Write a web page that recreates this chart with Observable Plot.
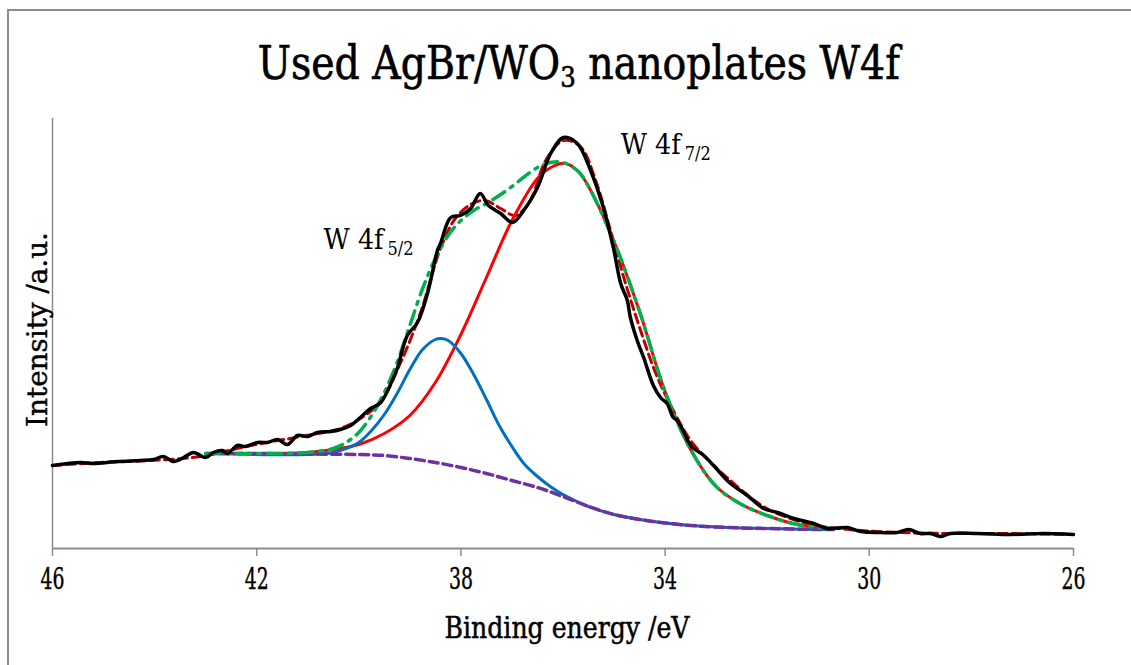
<!DOCTYPE html>
<html>
<head>
<meta charset="utf-8">
<script src="https://cdn.jsdelivr.net/npm/d3@7"></script>
<script src="https://cdn.jsdelivr.net/npm/@observablehq/plot@0.6"></script>
<style>
html,body{margin:0;padding:0;background:#fff;}
#wrap{position:relative;width:1131px;height:665px;overflow:hidden;background:#fff;}
#border{position:absolute;left:7px;top:9px;right:-10px;bottom:-10px;border-left:2px solid #8c8c8c;border-top:2px solid #8c8c8c;}
#chart{position:absolute;left:0;top:0;}
#title{position:absolute;left:0;top:40px;width:1131px;box-sizing:border-box;padding-left:27px;text-align:center;font-family:"DejaVu Serif Condensed","DejaVu Serif","Liberation Serif","Noto Serif",serif;font-size:46px;line-height:1;color:#000;white-space:nowrap;-webkit-text-stroke:0.6px #000;}
#title span{display:inline-block;transform-origin:50% 50%;}
#title sub{font-size:0.62em;vertical-align:-0.28em;line-height:0;}
</style>
</head>
<body>
<div id="wrap">
  <div id="border"></div>
  <div id="chart"></div>
  <div id="title"><span id="titletext">Used AgBr/WO<sub>3</sub> nanoplates W4f</span></div>
</div>
<script>
// ---- data (binding energy in eV, intensity in a.u.) ----
// measured spectrum (black)
const rawEV = [46.00,45.45,45.20,44.73,44.28,44.02,43.83,43.63,43.43,43.24,43.00,42.85,42.67,42.57,42.38,42.22,41.98,41.79,41.59,41.40,41.20,41.00,40.81,40.55,40.36,40.16,39.97,39.77,39.57,39.32,39.24,39.05,38.85,38.65,38.46,38.40,38.20,38.01,37.81,37.62,37.46,37.22,36.99,36.77,36.50,36.24,35.99,35.72,35.46,35.21,35.01,34.87,34.74,34.68,34.54,34.42,34.23,34.09,33.96,33.84,33.76,33.50,33.44,33.24,33.05,32.72,32.39,32.07,31.80,31.48,31.09,30.82,30.43,30.17,29.78,29.45,29.23,29.00,28.80,28.61,28.41,27.88,27.23,26.59,26.00];
const rawI  = [83,86,85,87,88,89,92,87,91,96,91,96,98,95,103,102,106,106,109,104,113,112,116,117,119,123,131,140,146,171,181,213,226,256,298,305,331,333,340,355,343,335,326,338,361,395,411,405,378,341,300,265,248,231,207,191,163,151,145,131,128,103,100,93,83,65,53,40,36,30,25,20,21,17,16,16,19,15,15,12,15,15,14,15,14];

// smoothed spectrum (dark red dashed)
const envEV = [46.00,45.06,44.08,43.10,42.12,41.14,40.36,39.97,39.57,39.18,38.79,38.40,38.11,37.81,37.52,37.22,36.93,36.64,36.34,35.99,35.66,35.36,35.07,34.78,34.48,34.19,33.89,33.50,33.11,32.72,32.33,31.94,31.54,31.15,30.76,30.17,29.39,28.41,27.43,26.00];
const envI  = [83,86,88,92,103,112,120,130,147,186,236,300,330,344,348,340,333,348,388,408,402,368,318,266,218,176,143,108,86,68,51,38,30,24,21,18,16,15,15,14];

// fitted envelope (green dash-dot)
const sumEV = [43.00,42.00,41.00,40.50,40.25,40.00,39.75,39.50,39.25,39.00,38.75,38.50,38.25,38.00,37.75,37.50,37.25,37.00,36.75,36.50,36.25,36.00,35.70,35.50,35.00,34.50,34.00,33.50,33.00,32.50,32.00,31.50,31.00,30.70];
const sumI  = [95,95,96,100,106,116,133,156,186,223,260,290,313,328,338,345,353,362,372,381,386,386,377,362,307,237,157,99,62,44,33,25,21,20];

// W 4f7/2 component (red)
const p72EV = [43.00,42.00,41.00,40.50,40.00,39.50,39.00,38.50,38.00,37.50,37.00,36.50,36.20,35.95,35.70,35.50,35.00,34.50,34.00,33.50,33.00,32.50,32.00,31.50,31.00,30.70];
const p72I  = [95,95,96,99,104,115,133,166,214,271,328,370,382,385,377,362,307,237,157,99,62,44,33,25,21,20];

// W 4f5/2 component (blue)
const p52EV = [43.00,41.00,40.50,40.25,40.00,39.75,39.50,39.25,39.00,38.75,38.50,38.38,38.25,38.00,37.75,37.50,37.25,37.00,36.75,36.50,36.25,36.00,35.50,35.00,34.50,34.00,33.50,33.00,32.50,32.00,31.00,30.70];
const p52I  = [95,94,96,100,106,118,134,155,179,199,209,210,208,195,174,149,123,102,84,72,62,54,42,34,29,25.5,23,21.5,20.5,20,19,19];

// background (purple dashed)
const bgEV = [43.00,42.00,41.00,40.00,39.50,39.00,38.50,38.00,37.50,37.00,36.50,36.00,35.50,35.00,34.50,34.00,33.50,33.00,32.50,32.00,31.00,30.70];
const bgI  = [95,95,94.5,94,93,90,86,81,75,68,61,52,42,34,29,25.5,23,21.5,20.5,20,19,19];

const xTicks = [46,42,38,34,30,26];
const labelMain = ["W 4f","W 4f"];
const labelSub  = ["5/2","7/2"];
const labelEV   = [40.69,34.87];
const labelI    = [300,395];

// ---- build ----
const rows = (E, I) => E.map((e, k) => ({e, i: I[k]}));
const labels = labelMain.map((t, k) => ({t, s: labelSub[k], e: labelEV[k], i: labelI[k]}));

const serif = "'DejaVu Serif Condensed', 'DejaVu Serif', 'Liberation Serif', 'Noto Serif', serif";

const chart = Plot.plot({
  width: 1131,
  height: 665,
  marginLeft: 52,
  marginRight: 58,
  marginTop: 118,
  marginBottom: 117,
  style: {fontFamily: serif, background: "transparent", color: "#000", overflow: "visible"},
  x: {domain: [46, 26]},
  y: {domain: [0, 430], axis: null},
  marks: [
    Plot.ruleX([46], {y1: 0, y2: 430, stroke: "#8c8c8c", strokeWidth: 1.5}),
    Plot.ruleY([0], {stroke: "#8c8c8c", strokeWidth: 2}),
    Plot.axisX({ticks: xTicks, tickSize: 8, tickPadding: 11, stroke: "#8c8c8c", strokeWidth: 1.5, fill: "#000", fontSize: 30, label: null, tickFormat: d => String(d)}),
    Plot.line(rows(envEV, envI), {x: "e", y: "i", stroke: "#c00000", strokeWidth: 3, strokeDasharray: "9,5", curve: "catmull-rom"}),
    Plot.line(rows(p72EV, p72I), {x: "e", y: "i", stroke: "#ff0000", strokeWidth: 3, curve: "catmull-rom"}),
    Plot.line(rows(p52EV, p52I), {x: "e", y: "i", stroke: "#0070c0", strokeWidth: 3, curve: "catmull-rom"}),
    Plot.line(rows(bgEV, bgI), {x: "e", y: "i", stroke: "#7030a0", strokeWidth: 3.5, strokeDasharray: "9,5", curve: "catmull-rom"}),
    Plot.line(rows(sumEV, sumI), {x: "e", y: "i", stroke: "#00b050", strokeWidth: 3.5, strokeDasharray: "14,7,3,7", curve: "catmull-rom"}),
    Plot.line(rows(rawEV, rawI), {x: "e", y: "i", stroke: "#000", strokeWidth: 3.5, curve: "catmull-rom"}),
    Plot.text(labels, {x: "e", y: "i", text: "t", textAnchor: "start", lineAnchor: "bottom", fontSize: 27, fill: "#000", className: "lblmain"}),
    Plot.text(labels, {x: "e", y: "i", text: "s", textAnchor: "start", lineAnchor: "bottom", fontSize: 19, dx: 64, dy: 6, fill: "#000", className: "lblsub"}),
    Plot.text(["Intensity /a.u."], {frameAnchor: "left", textAnchor: "middle", lineAnchor: "middle", rotate: -90, dx: -14, dy: -4, fontSize: 27, fill: "#000", stroke: "#000", strokeWidth: 0.4, className: "ylab"}),
    Plot.text(["Binding energy /eV"], {frameAnchor: "bottom", textAnchor: "middle", lineAnchor: "bottom", dx: 4, dy: 89, fontSize: 30, fill: "#000", stroke: "#000", strokeWidth: 0.5, className: "xlab"})
  ]
});

document.getElementById("chart").appendChild(chart);

// fit text widths to the narrow face of the original
function fit(selection, target, uniform) {
  let k = null;
  selection.each(function() {
    const w = this.getComputedTextLength();
    if (!w) return;
    const kk = uniform && k !== null ? k : target / w;
    if (uniform && k === null) k = kk;
    const t = this.getAttribute("transform") || "";
    if (t.includes("translate")) this.setAttribute("transform", t + ` scale(${kk},1)`);
  });
}
const svg = d3.select(chart);
svg.selectAll('g[aria-label="x-axis tick label"] text').attr("stroke", "#000").attr("stroke-width", 0.4);
fit(svg.selectAll('g[aria-label="x-axis tick label"] text'), 24, true);
fit(svg.selectAll('.lblmain text'), 60, true);
fit(svg.selectAll('.lblsub text'), 26, true);
fit(svg.selectAll('.ylab text'), 195, false);
fit(svg.selectAll('.xlab text'), 245, false);

const tt = document.getElementById("titletext");
const tw = tt.getBoundingClientRect().width;
if (tw) tt.style.transform = `scaleX(${642 / tw})`;
</script>
</body>
</html>
